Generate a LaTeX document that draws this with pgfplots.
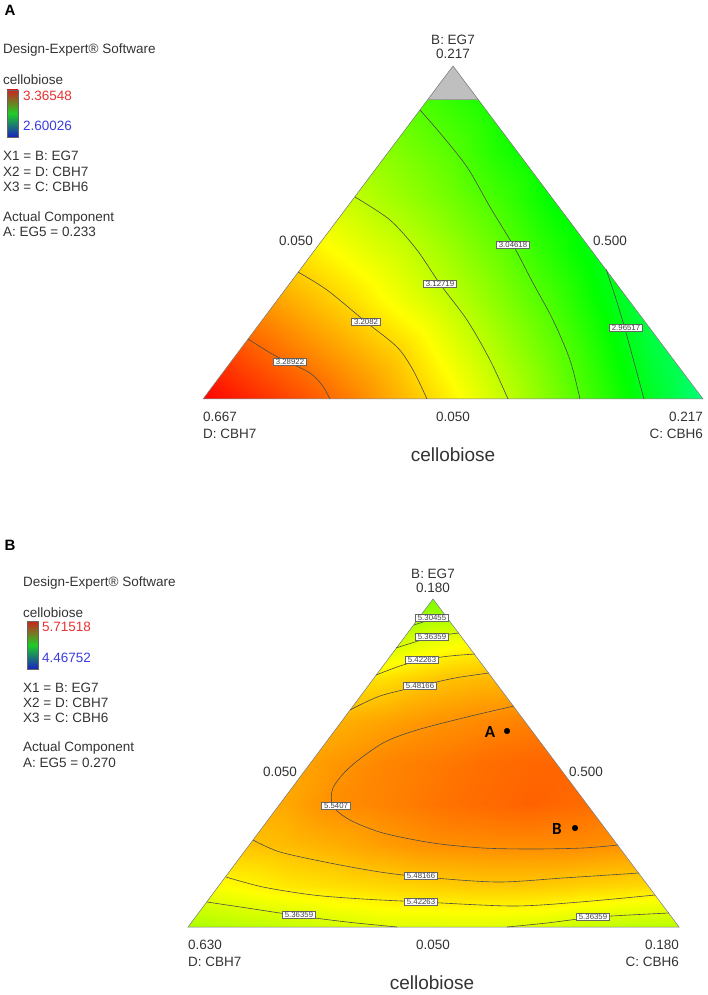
\documentclass[border=0pt]{standalone}
\usepackage{fontspec}
\setmainfont{Liberation Sans}
\newfontfamily\carlito{Carlito}
\usepackage{pgfplots}
\usepackage{pgfplotstable}
\pgfplotsset{compat=1.18}

% Design-Expert style colour ramp
\pgfplotsset{colormap={de}{rgb255(0cm)=(0,0,255); rgb255(1cm)=(0,255,255); rgb255(2cm)=(0,255,0); rgb255(3cm)=(255,255,0); rgb255(4cm)=(255,0,0)}}

\pgfplotsset{panel/.style={width=708pt, height=995pt, scale only axis,
  xmin=0, xmax=708, ymin=0, ymax=995, y dir=reverse, hide axis, clip=false,
  colormap name=de, at={(0,0)}, anchor=south west}}

\tikzset{
  lbl/.style={font=\fontsize{13.5}{15}\selectfont, text=black!80, inner sep=0pt},
  big/.style={font=\fontsize{19}{21}\selectfont, text=black!80, inner sep=0pt},
  clab/.style={draw=black!60, line width=0.4pt, fill=white, font=\fontsize{7.8}{8}\selectfont,
    inner xsep=2.5pt, inner ysep=0.6pt, text=black!75},
  cline/.style={black!70, line width=0.6pt, smooth},
}
\definecolor{barred}{RGB}{205,35,30}
\definecolor{bargreen}{RGB}{30,205,40}
\definecolor{barblue}{RGB}{25,35,190}
\definecolor{valred}{RGB}{232,50,50}
\definecolor{valblue}{RGB}{60,60,225}

% panel A: cellobiose, pixel grid (x, y from top)
\pgfplotstableread{
x y v
203 99 3.150
253 99 3.120
303 99 3.100
353 99 3.070
403 99 3.050
453 99 3.020
503 99 2.990
553 99 2.970
603 99 2.950
653 99 2.930
703 99 2.910
203 149 3.180
253 149 3.150
303 149 3.120
353 149 3.100
403 149 3.075
453 149 3.046
503 149 3.001
553 149 2.970
603 149 2.950
653 149 2.930
703 149 2.910
203 199 3.220
253 199 3.190
303 199 3.160
353 199 3.129
403 199 3.099
453 199 3.067
503 199 3.029
553 199 2.980
603 199 2.950
653 199 2.930
703 199 2.910
203 249 3.250
253 249 3.220
303 249 3.190
353 249 3.162
403 249 3.134
453 249 3.097
503 249 3.056
553 249 3.007
603 249 2.960
653 249 2.930
703 249 2.900
203 299 3.270
253 299 3.255
303 299 3.227
353 299 3.197
403 299 3.161
453 299 3.125
503 299 3.081
553 299 3.034
603 299 2.978
653 299 2.920
703 299 2.880
203 349 3.330
253 349 3.295
303 349 3.265
353 349 3.235
403 349 3.203
453 349 3.156
503 349 3.108
553 349 3.058
603 349 2.999
653 349 2.938
703 349 2.890
203 399 3.365
253 399 3.335
303 399 3.305
353 399 3.270
403 399 3.228
453 399 3.182
503 399 3.132
553 399 3.076
603 399 3.017
653 399 2.954
703 399 2.893
}\tabA

% panel B
\pgfplotstableread{
x y v
188 599 5.280
237 599 5.280
286 599 5.280
335 599 5.270
384 599 5.250
433 599 5.240
482 599 5.250
531 599 5.270
580 599 5.290
629 599 5.300
679 599 5.300
188 640 5.330
237 640 5.330
286 640 5.330
335 640 5.330
384 640 5.330
433 640 5.372
482 640 5.400
531 640 5.420
580 640 5.420
629 640 5.410
679 640 5.400
188 681 5.430
237 681 5.430
286 681 5.440
335 681 5.440
384 681 5.446
433 681 5.477
482 681 5.492
531 681 5.500
580 681 5.500
629 681 5.490
679 681 5.480
188 722 5.470
237 722 5.480
286 722 5.490
335 722 5.500
384 722 5.516
433 722 5.535
482 722 5.548
531 722 5.560
580 722 5.560
629 722 5.550
679 722 5.540
188 763 5.490
237 763 5.500
286 763 5.510
335 763 5.530
384 763 5.552
433 763 5.565
482 763 5.580
531 763 5.590
580 763 5.590
629 763 5.580
679 763 5.570
188 804 5.480
237 804 5.500
286 804 5.510
335 804 5.542
384 804 5.555
433 804 5.572
482 804 5.585
531 804 5.595
580 804 5.585
629 804 5.570
679 804 5.560
188 845 5.450
237 845 5.475
286 845 5.486
335 845 5.502
384 845 5.523
433 845 5.539
482 845 5.543
531 845 5.546
580 845 5.545
629 845 5.535
679 845 5.530
188 886 5.390
237 886 5.409
286 886 5.430
335 886 5.442
384 886 5.452
433 886 5.462
482 886 5.469
531 886 5.468
580 886 5.460
629 886 5.452
679 886 5.440
188 927 5.300
237 927 5.316
286 927 5.330
335 927 5.350
384 927 5.364
433 927 5.363
482 927 5.364
531 927 5.358
580 927 5.336
629 927 5.322
679 927 5.318
}\tabB

\begin{document}
\begin{tikzpicture}
% ---------------- panel A ----------------
\begin{axis}[panel, point meta min=2.60026, point meta max=3.36548]
\addplot[surf, shader=interp, mesh/cols=11, point meta=\thisrow{v}] table[x=x, y=y] {\tabA};
\fill[white, even odd rule] (200,96) rectangle (706,401)
  (203,399) -- (428,99) -- (478,99) -- (703,399) -- cycle;
\fill[black!25] (453,66) -- (428,99) -- (478,99) -- cycle;
\draw[black!55, line width=0.5pt] (203,399) -- (453,66) -- (703,399) -- cycle;
\draw[black!40, line width=0.3pt] (428,99) -- (478,99);

\addplot[cline] coordinates {(248,339) (272,354) (290,363) (310,373) (322,385) (330,399)};
\addplot[cline] coordinates {(298,272) (327,290) (366,322) (397,347) (413,370) (427,399)};
\addplot[cline] coordinates {(355,197) (390,220) (417,250) (440,284) (467,320) (490,360) (508,399)};
\addplot[cline] coordinates {(420,110) (440,133) (467,167) (490,207) (513,245) (533,283) (553,320) (570,360) (580,399)};
\addplot[cline] coordinates {(606,269) (616,299) (625,329) (634,362) (644,399)};

\node[clab] at (290,362) {3.28922};
\node[clab] at (366,322) {3.2082};
\node[clab] at (440,284) {3.12719};
\node[clab] at (513,245) {3.04618};
\node[clab] at (626,328) {2.96517};

\node[lbl] at (453,40) {B: EG7};
\node[lbl] at (453,54) {0.217};
\node[lbl] at (296,241) {0.050};
\node[lbl] at (610,241) {0.500};
\node[lbl, anchor=west] at (203,417) {0.667};
\node[lbl, anchor=west] at (203,434) {D: CBH7};
\node[lbl] at (453,417) {0.050};
\node[lbl, anchor=east] at (703,417) {0.217};
\node[lbl, anchor=east] at (703,434) {C: CBH6};
\node[big] at (453,455) {cellobiose};

\node[font=\bfseries\fontsize{15}{15}\selectfont, inner sep=0pt] at (10,10) {A};
\node[lbl, anchor=west] at (3,50) {Design-Expert® Software};
\node[lbl, anchor=west] at (3,80) {cellobiose};
\shade[top color=barred, bottom color=barblue, middle color=bargreen] (7,90) rectangle (18,137);
\draw[black!60, line width=0.4pt] (7,90) rectangle (18,137);
\node[lbl, anchor=west, text=valred] at (23,96) {3.36548};
\node[lbl, anchor=west, text=valblue] at (23,126) {2.60026};
\node[lbl, anchor=west] at (3,156) {X1 = B: EG7};
\node[lbl, anchor=west] at (3,172) {X2 = D: CBH7};
\node[lbl, anchor=west] at (3,187) {X3 = C: CBH6};
\node[lbl, anchor=west] at (3,218) {Actual Component};
\node[lbl, anchor=west] at (3,232) {A: EG5 = 0.233};
\end{axis}

% ---------------- panel B ----------------
\begin{axis}[panel, point meta min=4.46752, point meta max=5.71518]
\addplot[surf, shader=interp, mesh/cols=11, point meta=\thisrow{v}] table[x=x, y=y] {\tabB};
\fill[white, even odd rule] (185,596) rectangle (682,930)
  (188,927) -- (433,599) -- (679,927) -- cycle;
\draw[black!55, line width=0.5pt] (188,927) -- (433,599) -- (679,927) -- cycle;

\addplot[cline] coordinates {(414,625) (432,619) (446,615)};
\addplot[cline] coordinates {(396,648) (432,637) (459,633)};
\addplot[cline] coordinates {(376,675) (400,666) (422,660) (450,656) (475,654)};
\addplot[cline] coordinates {(350,710) (380,696) (420,686) (455,678) (489,673)};
\addplot[cline] coordinates {(514,706) (467,717) (417,730) (383,743) (350,767) (333,788) (333,806) (350,820) (383,833) (433,843) (483,848) (533,849) (583,848) (618,845)};
\addplot[cline] coordinates {(253,840) (280,852) (330,863) (380,872) (423,877) (497,882) (563,878) (639,873)};
\addplot[cline] coordinates {(226,877) (263,887) (313,895) (363,899) (423,902) (513,906) (580,902) (655,895)};
\addplot[cline] coordinates {(207,902) (247,908) (300,916) (347,922) (397,927)};
\addplot[cline] coordinates {(507,927) (547,923) (597,917) (669,913)};

\node[clab] at (432,618) {5.30455};
\node[clab] at (432,637) {5.36359};
\node[clab] at (422,660) {5.42263};
\node[clab] at (420,686) {5.48166};
\node[clab] at (336,806) {5.5407};
\node[clab] at (421,876) {5.48166};
\node[clab] at (421,902) {5.42263};
\node[clab] at (299,915) {5.36359};
\node[clab] at (593,917) {5.36359};

\addplot[only marks, mark=*, mark size=2.8pt, mark options={fill=black, draw=black}] coordinates {(507,731) (575,828)};
\node[font=\carlito\bfseries\fontsize{17}{17}\selectfont, inner sep=0pt] at (490,732) {A};
\node[font=\carlito\bfseries\fontsize{17}{17}\selectfont, inner sep=0pt] at (557,829) {B};

\node[lbl] at (433,574) {B: EG7};
\node[lbl] at (433,588) {0.180};
\node[lbl] at (280,772) {0.050};
\node[lbl] at (586,772) {0.500};
\node[lbl, anchor=west] at (188,945) {0.630};
\node[lbl, anchor=west] at (188,962) {D: CBH7};
\node[lbl] at (433,945) {0.050};
\node[lbl, anchor=east] at (679,945) {0.180};
\node[lbl, anchor=east] at (679,962) {C: CBH6};
\node[big] at (432,983) {cellobiose};

\node[font=\bfseries\fontsize{15}{15}\selectfont, inner sep=0pt] at (10,545) {B};
\node[lbl, anchor=west] at (23,583) {Design-Expert® Software};
\node[lbl, anchor=west] at (23,613) {cellobiose};
\shade[top color=barred, bottom color=barblue, middle color=bargreen] (27,621) rectangle (38,669);
\draw[black!60, line width=0.4pt] (27,621) rectangle (38,669);
\node[lbl, anchor=west, text=valred] at (42,627) {5.71518};
\node[lbl, anchor=west, text=valblue] at (42,658) {4.46752};
\node[lbl, anchor=west] at (23,688) {X1 = B: EG7};
\node[lbl, anchor=west] at (23,703) {X2 = D: CBH7};
\node[lbl, anchor=west] at (23,718) {X3 = C: CBH6};
\node[lbl, anchor=west] at (23,748) {Actual Component};
\node[lbl, anchor=west] at (23,763) {A: EG5 = 0.270};
\end{axis}
\pgfresetboundingbox
\path[use as bounding box] (0,0) rectangle (708pt,995pt);
\end{tikzpicture}
\end{document}
